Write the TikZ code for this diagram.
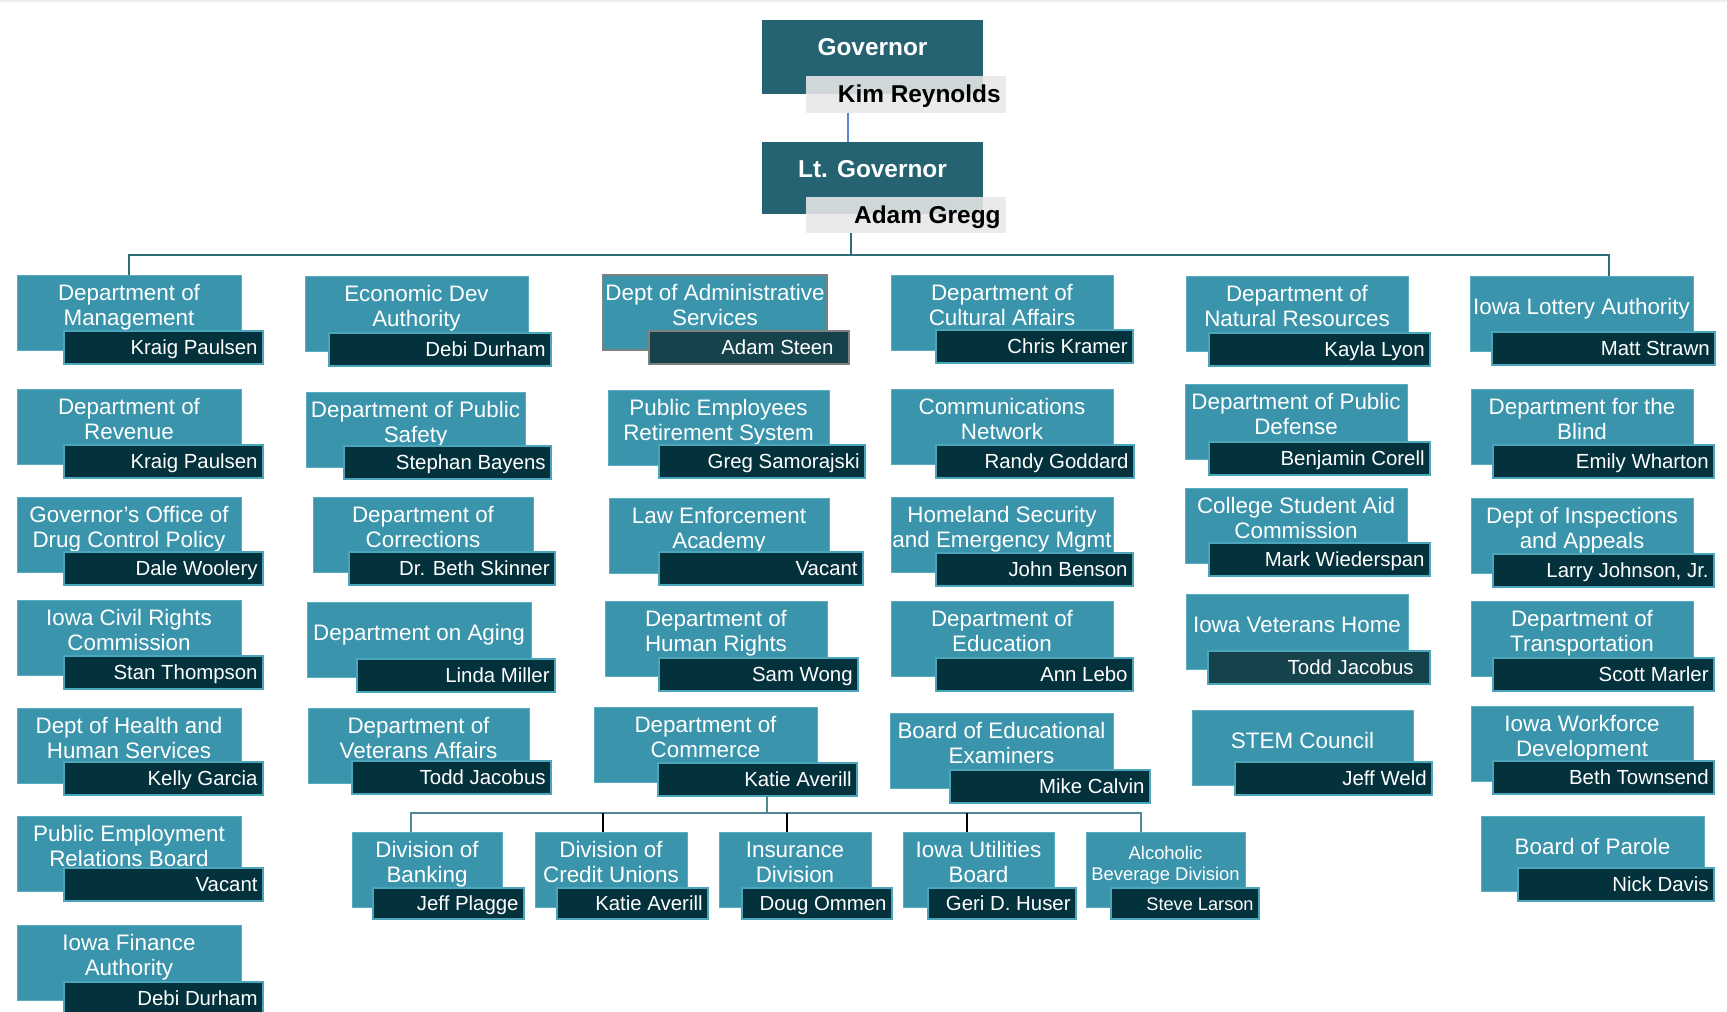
\documentclass[tikz,border=0pt]{standalone}
\usepackage{fontspec}
\setmainfont{Liberation Sans}
\usetikzlibrary{calc}
\definecolor{lteal}{HTML}{3A94AB}
\definecolor{lborder}{HTML}{5AACBF}
\definecolor{dname}{HTML}{04323C}
\definecolor{nborder}{HTML}{4BA6BB}
\definecolor{govc}{HTML}{256372}
\definecolor{grayc}{HTML}{E8E8E8}
\definecolor{busc}{HTML}{2F6C79}
\definecolor{bustwo}{HTML}{4F8794}
\definecolor{govlinec}{HTML}{5B84D9}
\definecolor{dtrans}{HTML}{16424C}
\definecolor{edgegray}{HTML}{808080}
\tikzset{
  lbox/.style={anchor=north west, fill=lteal, draw=lborder, line width=0.5pt, inner sep=0pt, outer sep=0pt, minimum height=37.5pt, lboxx},
  lboxx/.style={},
  nbox/.style={anchor=north west, fill=dname, draw=nborder, line width=0.7pt, inner sep=0pt, outer sep=0pt, minimum height=16.5pt, nboxx},
  nboxx/.style={},
  ttl/.style={align=center, text=white, font=\fontsize{11.2}{12.5}\selectfont, inner sep=0pt},
  ntxt/.style={anchor=east, text=white, font=\fontsize{10.2}{12}\selectfont, inner sep=0pt, text height=7.4pt, text depth=0pt},
  gbox/.style={anchor=north west, fill=govc, inner sep=0pt, outer sep=0pt},
  graybox/.style={anchor=north west, fill=grayc, fill opacity=0.88, inner sep=0pt, outer sep=0pt},
  gtxt/.style={text=white, font=\fontsize{12.2}{14}\selectfont\bfseries, inner sep=0pt, text height=8.8pt, text depth=0pt},
  gname/.style={anchor=east, text=black, font=\fontsize{12.2}{14}\selectfont\bfseries, inner sep=0pt, text height=8.8pt, text depth=0pt},
  bus/.style={draw=busc, line width=1.3pt},
  subbus/.style={draw=bustwo, line width=1.1pt},
  substub/.style={draw=black, line width=0.7pt},
  govline/.style={draw=govlinec, line width=0.8pt},
}
\def\npad{5}
% id, lx, ly, lw, nx, ny, nw, title, person
\newcommand\ent[9]{%
  \node[lbox, minimum width={#4*0.5pt}] (#1) at (#2,#3) {};
  \node[ttl] (#1t) at ($(#1.north)+(0,32.5)$) {\rule{0pt}{8.2pt}#8\rule[-2.4pt]{0pt}{2.4pt}};
  \node[nbox, minimum width={#7*0.5pt}] (#1n) at (#5,#6) {};
  \node[ntxt] (#1p) at ($(#1n.east)+(-\npad,0)$) {#9};
}
\begin{document}
\begin{tikzpicture}[x=0.5pt,y=-0.5pt]
\useasboundingbox (0,0) rectangle (1727,1011);
\clip (0,0) rectangle (1727,1011);
\fill[white] (0,0) rectangle (1727,1011);
\draw[black!7, line width=1pt] (0,1) -- (1727,1);

% Governor and Lt. Governor
\node[gbox, minimum width=110.5pt, minimum height=37pt] (gov) at (762,20) {};
\node[gtxt] (govt) at ($(gov.north)+(0,27)$) {Governor};
\node[graybox, minimum width=100pt, minimum height=18.5pt] (kim) at (806,76) {};
\node[gname] (kimt) at ($(kim.east)+(-5,-0.5)$) {Kim Reynolds};
\node[gbox, minimum width=110.5pt, minimum height=36pt] (ltg) at (762,142) {};
\node[gtxt] (ltgt) at ($(ltg.north)+(0,27)$) {Lt. Governor};
\node[graybox, minimum width=100pt, minimum height=18pt] (adam) at (806,197) {};
\node[gname] (adamt) at ($(adam.east)+(-5,0)$) {Adam Gregg};

% Column 1
\ent{A1}{17}{275}{224}{64}{331}{199}{Department of\\Management}{Kraig Paulsen}
\ent{A2}{17}{389}{224}{64}{445}{199}{Department of\\Revenue}{Kraig Paulsen}
\ent{A3}{17}{497}{224}{64}{552}{199}{Governor's Office of\\Drug Control Policy}{Dale Woolery}
\ent{A4}{17}{600}{224}{64}{656}{199}{Iowa Civil Rights\\Commission}{Stan Thompson}
\ent{A5}{17}{708}{224}{64}{762}{199}{Dept of Health and\\Human Services}{Kelly Garcia}
\ent{A6}{17}{816}{224}{64}{868}{199}{Public Employment\\Relations Board}{Vacant}
\ent{A7}{17}{925}{224}{64}{982}{199}{Iowa Finance\\Authority}{Debi Durham}

% Column 2
\ent{B1}{305}{276}{223}{329}{333}{222}{Economic Dev\\Authority}{Debi Durham}
\ent{B2}{306}{392}{219}{344}{446}{207}{Department of Public\\Safety}{Stephan Bayens}
\ent{B3}{313}{497}{220}{349}{552}{206}{Department of\\Corrections}{Dr. Beth Skinner}
\ent{B4}{307}{602}{224}{357}{659}{198}{Department on Aging}{Linda Miller}
\ent{B5}{308}{708}{221}{352}{761}{199}{Department of\\Veterans Affairs}{Todd Jacobus}

% Column 3
\begin{scope}[lboxx/.style={draw=edgegray, line width=0.8pt}, nboxx/.style={fill=dtrans, draw=edgegray}]
\def\npad{15}
\ent{C1}{603}{275}{224}{649}{331}{200}{Dept of Administrative\\Services}{Adam Steen}
\end{scope}
\ent{C2}{608}{390}{221}{659}{445}{206}{Public Employees\\Retirement System}{Greg Samorajski}
\ent{C3}{609}{498}{220}{659}{552}{204}{Law Enforcement\\Academy}{Vacant}
\ent{C4}{605}{601}{222}{659}{658}{199}{Department of\\Human Rights}{Sam Wong}
\ent{C5}{594}{707}{223}{658}{763}{199}{Department of\\Commerce}{Katie Averill}

% Column 4
\ent{D1}{891}{275}{222}{936}{330}{197}{Department of\\Cultural Affairs}{Chris Kramer}
\ent{D2}{891}{389}{222}{936}{445}{198}{Communications\\Network}{Randy Goddard}
\ent{D3}{891}{497}{222}{936}{553}{197}{Homeland Security\\and Emergency Mgmt}{John Benson}
\ent{D4}{891}{601}{222}{936}{658}{197}{Department of\\Education}{Ann Lebo}
\ent{D5}{890}{713}{223}{950}{770}{200}{Board of Educational\\Examiners}{Mike Calvin}

% Column 5
\ent{E1}{1186}{276}{222}{1209}{333}{221}{Department of\\Natural Resources}{Kayla Lyon}
\ent{E2}{1185}{384}{222}{1209}{442}{221}{Department of Public\\Defense}{Benjamin Corell}
\ent{E3}{1185}{488}{222}{1209}{543}{221}{College Student Aid\\Commission}{Mark Wiederspan}
\begin{scope}[nboxx/.style={fill=dtrans}]
\def\npad{16}
\ent{E4}{1186}{594}{222}{1208}{651}{222}{Iowa Veterans Home}{Todd Jacobus}
\end{scope}
\ent{E5}{1192}{710}{221}{1235}{762}{197}{STEM Council}{Jeff Weld}

% Column 6
\ent{F1}{1470}{276}{223}{1492}{332}{223}{Iowa Lottery Authority}{Matt Strawn}
\ent{F2}{1471}{389}{222}{1493}{445}{221}{Department for the\\Blind}{Emily Wharton}
\ent{F3}{1471}{498}{222}{1493}{554}{221}{Dept of Inspections\\and Appeals}{Larry Johnson, Jr.}
\ent{F4}{1471}{601}{222}{1493}{658}{221}{Department of\\Transportation}{Scott Marler}
\ent{F5}{1471}{706}{222}{1493}{761}{221}{Iowa Workforce\\Development}{Beth Townsend}
\ent{F6}{1481}{816}{223}{1518}{868}{196}{Board of Parole}{Nick Davis}

% Commerce divisions
\begin{scope}[nbox/.append style={minimum height=15.5pt}]
\ent{S1}{352}{832}{150}{373}{888}{151}{Division of\\Banking}{Jeff Plagge}
\ent{S2}{535}{832}{152}{557}{888}{151}{Division of\\Credit Unions}{Katie Averill}
\ent{S3}{719}{832}{152}{742}{888}{150}{Insurance\\Division}{Doug Ommen}
\ent{S4}{903}{832}{151}{928}{888}{148}{Iowa Utilities\\Board}{Geri D. Huser}
\begin{scope}[ttl/.append style={font=\fontsize{9.2}{10.5}\selectfont}, ntxt/.append style={font=\fontsize{9.1}{11}\selectfont, text height=6.6pt}]
\ent{S5}{1086}{832}{159}{1111}{888}{148}{Alcoholic\\Beverage Division}{Steve Larson}
\end{scope}
\end{scope}

% Connectors
\coordinate (gl) at (848,0);
\draw[govline] (kim.south -| gl) -- (ltg.north -| gl);
\coordinate (busC) at (851,255);
\coordinate (busR) at (1609,255);
\draw[bus] (adam.south -| busC) -- (busC);
\draw[bus] (A1.north) |- (busR) -- (busR |- F1.north);

\coordinate (sbus) at (767,813);
\draw[subbus] (C5n.south -| sbus) -- (sbus);
\draw[subbus] ($(S1.north west)+(59,0)$) |- (sbus) -| ($(S5.north west)+(55,0)$);
\path ($(S2.north west)+(68,0)$) coordinate (s2);
\path ($(S3.north west)+(68,0)$) coordinate (s3);
\path ($(S4.north west)+(64,0)$) coordinate (s4);
\draw[substub] (s2) -- (s2 |- sbus);
\draw[substub] (s3) -- (s3 |- sbus);
\draw[substub] (s4) -- (s4 |- sbus);
\end{tikzpicture}
\end{document}
